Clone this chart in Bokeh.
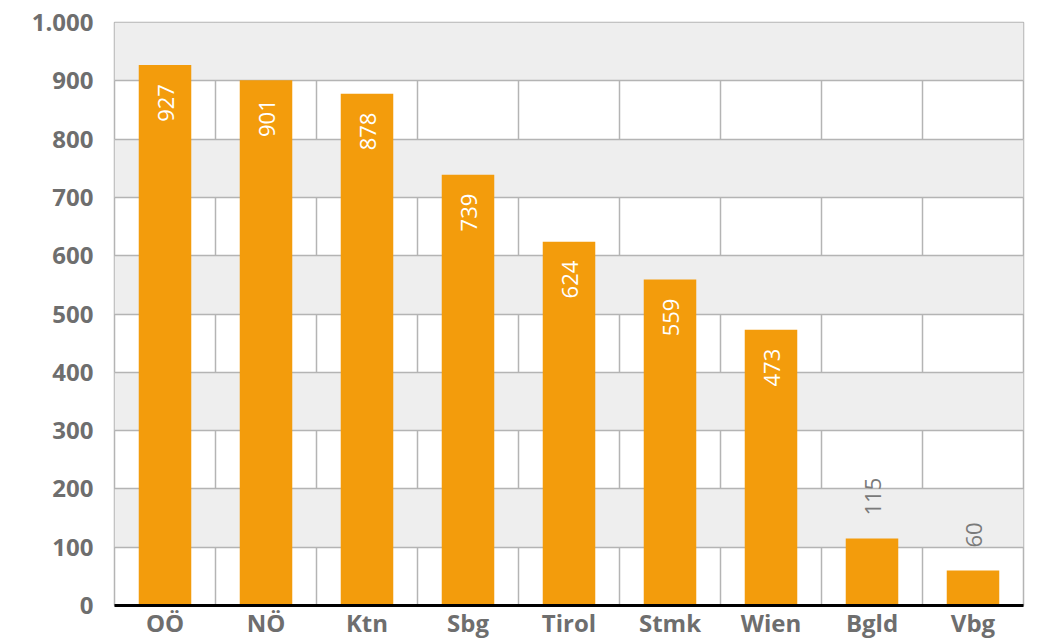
from bokeh.plotting import figure
from bokeh.models import FixedTicker, ColumnDataSource
from bokeh.core.properties import value
from bokeh.embed import file_html
from bokeh.resources import INLINE
import math

categories = ["OÖ", "NÖ", "Ktn", "Sbg", "Tirol", "Stmk", "Wien", "Bgld", "Vbg"]
values = [927, 901, 878, 739, 624, 559, 473, 115, 60]
y_ticks = [0, 100, 200, 300, 400, 500, 600, 700, 800, 900, 1000]
y_tick_labels = ["0", "100", "200", "300", "400", "500", "600", "700", "800", "900", "1.000"]

ORANGE = "#F39C0C"
GRAY_TXT = "#6E6E6E"
GRID = "#B4B4B4"

n = len(categories)
xs = [i + 0.5 for i in range(n)]

p = figure(width=1031, height=641, x_range=(0, n), y_range=(0, 1000),
           output_backend="svg", toolbar_location=None,
           min_border_left=114, min_border_right=8, min_border_top=22, min_border_bottom=33)
p.background_fill_color = "white"
p.outline_line_color = GRID
p.outline_line_width = 1.5

# grids
p.xgrid.ticker = FixedTicker(ticks=list(range(n + 1)))
p.xgrid.grid_line_color = GRID
p.xgrid.grid_line_width = 1.5
p.ygrid.ticker = FixedTicker(ticks=y_ticks)
p.ygrid.grid_line_color = GRID
p.ygrid.grid_line_width = 1.5
p.ygrid.band_fill_color = "#EEEEEE"
p.ygrid.band_fill_alpha = 1.0

# bars
src = ColumnDataSource(dict(x=xs, top=values))
p.vbar(x="x", top="top", width=0.52, bottom=0, source=src, fill_color=ORANGE, line_color=None)

# value labels
ix = [xs[i] for i, v in enumerate(values) if v > 300]
inside = [v for v in values if v > 300]
ox = [xs[i] for i, v in enumerate(values) if v <= 300]
outside = [v for v in values if v <= 300]
p.text(x=ix, y=inside, text=[str(v) for v in inside], angle=math.pi / 2,
       text_align="right", text_baseline="middle", y_offset=19, x_offset=1,
       text_color="white", text_font=value("Open Sans"), text_font_size="22px")
p.text(x=ox, y=outside, text=[str(v) for v in outside], angle=math.pi / 2,
       text_align="left", text_baseline="middle", y_offset=-23, x_offset=1,
       text_color="#7A7A7A", text_font=value("Open Sans"), text_font_size="22px")

# axes
p.xaxis.ticker = FixedTicker(ticks=xs)
p.xaxis.major_label_overrides = {x: c for x, c in zip(xs, categories)}
p.xaxis.axis_line_color = "black"
p.xaxis.axis_line_width = 3
p.xaxis.major_tick_line_color = None
p.xaxis.minor_tick_line_color = None
p.xaxis.major_tick_out = 0
p.xaxis.major_tick_in = 0
p.xaxis.minor_tick_out = 0
p.xaxis.major_label_standoff = 0
p.xaxis.major_label_text_font = "Open Sans"
p.xaxis.major_label_text_font_style = "bold"
p.xaxis.major_label_text_font_size = "24px"
p.xaxis.major_label_text_color = GRAY_TXT

p.yaxis.ticker = FixedTicker(ticks=y_ticks)
p.yaxis.major_label_overrides = {t: l for t, l in zip(y_ticks, y_tick_labels)}
p.yaxis.axis_line_color = None
p.yaxis.major_tick_line_color = None
p.yaxis.minor_tick_line_color = None
p.yaxis.major_tick_out = 0
p.yaxis.major_tick_in = 0
p.yaxis.minor_tick_out = 0
p.yaxis.major_label_standoff = 21
p.yaxis.major_label_text_font = "Open Sans"
p.yaxis.major_label_text_font_style = "bold"
p.yaxis.major_label_text_font_size = "24px"
p.yaxis.major_label_text_color = GRAY_TXT

open("out.html", "w").write(file_html(p, INLINE))
